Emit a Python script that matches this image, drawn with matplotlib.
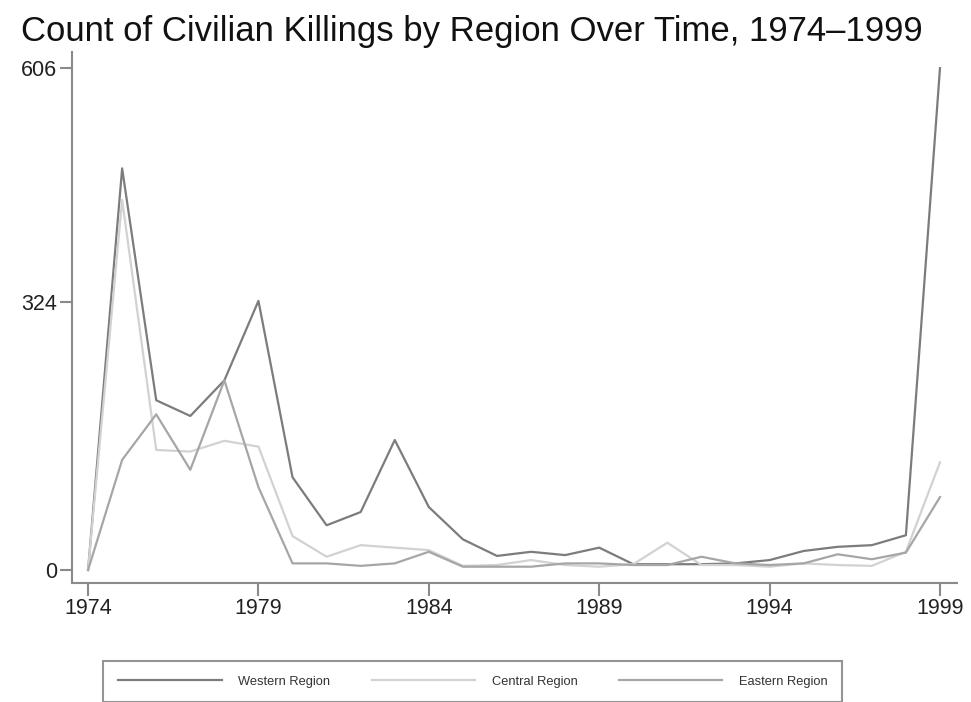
import matplotlib
matplotlib.use('Agg')
import matplotlib.pyplot as plt

plt.rcParams['font.family'] = ['Liberation Sans', 'DejaVu Sans']

years = list(range(1974, 2000))

# killings per year
western = [0, 485, 205, 186, 229, 325, 112, 54, 70, 157, 76, 37, 17, 22, 18, 27,
           7, 7, 7, 8, 12, 23, 28, 30, 42, 606]
central = [0, 447, 145, 143, 156, 149, 41, 16, 30, 27, 24, 5, 6, 12, 6, 4,
           7, 33, 6, 6, 4, 8, 6, 5, 22, 130]
eastern = [0, 133, 188, 121, 229, 100, 8, 8, 5, 8, 22, 4, 4, 4, 8, 8,
           6, 6, 16, 8, 6, 8, 19, 13, 21, 88]

y_ticks = [0, 324, 606]
x_ticks = [1974, 1979, 1984, 1989, 1994, 1999]

fig = plt.figure(figsize=(9.71, 7.02), dpi=100)
ax = fig.add_axes([0.0742, 0.1695, 0.9114, 0.7565])

ax.plot(years, western, color='#7c7c7c', lw=1.6, label='Western Region')
ax.plot(years, central, color='#d2d2d2', lw=1.6, label='Central Region')
ax.plot(years, eastern, color='#a6a6a6', lw=1.6, label='Eastern Region')

ax.set_xlim(1973.53, 1999.5)
ax.set_ylim(-15.7, 625.6)
ax.set_xticks(x_ticks)
ax.set_yticks(y_ticks)

for s in ['top', 'right']:
    ax.spines[s].set_visible(False)
for s in ['left', 'bottom']:
    ax.spines[s].set_color('#8a8a8a')
    ax.spines[s].set_linewidth(1.5)
ax.tick_params(colors='#8a8a8a', length=9, width=1.5, labelsize=15.5,
               labelcolor='#222222', pad=2)

fig.text(0.022, 0.955, 'Count of Civilian Killings by Region Over Time, 1974\u20131999',
         fontsize=25, color='#111111', va='center', ha='left')

leg = fig.legend(loc='upper center', bbox_to_anchor=(0.487, 0.068), ncol=3,
                 fontsize=9.3, frameon=True, fancybox=False, handlelength=8,
                 handletextpad=1.3, columnspacing=3.2, borderpad=1.15)
leg.get_frame().set_edgecolor('#7a7a7a')
leg.get_frame().set_linewidth(1.5)
for t in leg.get_texts():
    t.set_color('#333333')

fig.savefig('out.png', dpi=100)
